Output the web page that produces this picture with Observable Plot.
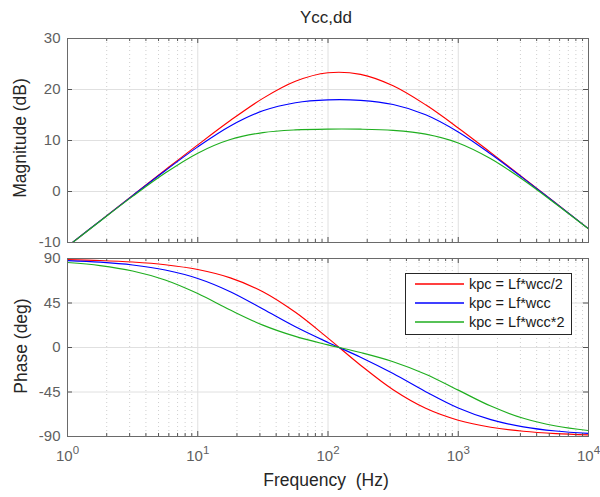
<!DOCTYPE html>
<html>
<head>
<meta charset="utf-8">
<script src="https://cdn.jsdelivr.net/npm/d3@7"></script>
<script src="https://cdn.jsdelivr.net/npm/@observablehq/plot@0.6"></script>
<style>
  body { margin: 0; background: #fff; }
  #wrap { position: relative; width: 600px; height: 497px; overflow: hidden; background: #fff;
          font-family: "Liberation Sans", Arial, Helvetica, sans-serif; }
  #top, #bot, #over { position: absolute; left: 0; }
  #top { top: 0; }
  #bot { top: 250px; }
  #over { top: 0; pointer-events: none; }
</style>
</head>
<body>
<div id="wrap">
  <div id="top"></div>
  <div id="bot"></div>
  <svg id="over" width="600" height="497"></svg>
</div>
<script>
// ---------------- data ----------------
const title = "Ycc,dd";
const seriesNames = ["kpc = Lf*wcc/2", "kpc = Lf*wcc", "kpc = Lf*wcc*2"];
const seriesColors = ["#ff0000", "#0000ff", "#1fae1f"];

const freqHz = [1, 1.778, 3.162, 5.623, 10, 17.78, 31.62, 56.23, 100, 177.8, 316.2, 562.3, 1000, 1778, 3162, 5623, 10000];

const magRed   = [-10.76, -5.76, -0.77, 4.21, 9.14, 13.91, 18.26, 21.61, 23.28, 22.97, 20.73, 16.99, 12.46, 7.62, 2.67, -2.31, -7.31];
const magBlue  = [-10.76, -5.77, -0.81, 4.08, 8.75, 12.85, 15.82, 17.41, 17.97, 17.87, 17.05, 15.05, 11.68, 7.35, 2.58, -2.34, -7.31];
const magGreen = [-10.78, -5.82, -0.96, 3.62, 7.52, 10.19, 11.55, 12.08, 12.24, 12.22, 11.98, 11.25, 9.52, 6.42, 2.25, -2.45, -7.35];

const phaseRed   = [88.88, 88.00, 86.45, 83.70, 78.84, 70.41, 56.41, 35.56, 9.51, -17.89, -42.71, -61.45, -73.51, -80.65, -84.72, -87.03, -88.33];
const phaseBlue  = [87.91, 86.29, 83.42, 78.38, 69.84, 56.47, 38.96, 21.00, 5.14, -9.84, -26.37, -44.63, -61.14, -72.95, -80.24, -84.48, -86.89];
const phaseGreen = [85.95, 82.83, 77.38, 68.26, 54.54, 37.89, 22.64, 11.20, 2.66, -5.11, -14.34, -26.97, -43.10, -59.25, -71.56, -79.39, -83.99];

const magTicks = [-10, 0, 10, 20, 30];
const phaseTicks = [-90, -45, 0, 45, 90];
const decadeTicks = [1, 10, 100, 1000, 10000];
const decadeExponents = ["0", "1", "2", "3", "4"];
const minorMultipliers = [2, 3, 4, 5, 6, 7, 8, 9];

const xLabel = "Frequency  (Hz)";
const magLabel = "Magnitude (dB)";
const phaseLabel = "Phase (deg)";

// ---------------- build tables ----------------
function table(arrs) {
  const rows = [];
  arrs.forEach((vals, s) => vals.forEach((v, i) => rows.push({f: freqHz[i], v, s: seriesNames[s]})));
  return rows;
}
const magData = table([magRed, magBlue, magGreen]);
const phaseData = table([phaseRed, phaseBlue, phaseGreen]);
const minorTicks = decadeTicks.slice(0, -1).flatMap(d => minorMultipliers.map(m => m * d));

const FONT = "Liberation Sans, Arial, Helvetica, sans-serif";
const W = 600, ML = 67, MR = 12;
const PW = W - ML - MR;
const XTICK_FILL = "#5f5f60"; // marker colour used to find the x tick labels afterwards
const TICK_FILL = "#5f5f5f";

function panel({height, marginTop, marginBottom, yDomain, yTicks, data, xLabels}) {
  const PH = height - marginTop - marginBottom;
  const marks = [
    Plot.ruleX(minorTicks, {x: d => d, stroke: "#cfcfcf", strokeDasharray: "1,3"}),
    Plot.ruleX(decadeTicks, {x: d => d, stroke: "#e0e0e0"}),
    Plot.ruleY(yTicks, {y: d => d, stroke: "#e0e0e0"}),
    Plot.line(data, {x: "f", y: "v", z: "s", stroke: "s", strokeWidth: 1.15, curve: "catmull-rom", clip: true}),
    // inward tick marks on all four sides
    Plot.ruleX(decadeTicks, {x: d => d, stroke: "#555", insetTop: PH - 5}),
    Plot.ruleX(minorTicks, {x: d => d, stroke: "#555", insetTop: PH - 3}),
    Plot.ruleX(decadeTicks, {x: d => d, stroke: "#555", insetBottom: PH - 5}),
    Plot.ruleX(minorTicks, {x: d => d, stroke: "#555", insetBottom: PH - 3}),
    Plot.ruleY(yTicks, {y: d => d, stroke: "#555", insetRight: PW - 5}),
    Plot.ruleY(yTicks, {y: d => d, stroke: "#555", insetLeft: PW - 5}),
    Plot.frame({stroke: "#6a6a6a"}),
    Plot.text(yTicks, {y: d => d, text: d => String(d), frameAnchor: "left", dx: -7, textAnchor: "end",
                       fontSize: 15, fill: TICK_FILL})
  ];
  if (xLabels) {
    marks.push(Plot.text(decadeTicks, {x: d => d, text: (d, i) => decadeExponents[i], frameAnchor: "bottom",
                                        dy: 24, fontSize: 15, fill: XTICK_FILL}));
  }
  return Plot.plot({
    width: W, height, marginLeft: ML, marginRight: MR, marginTop, marginBottom,
    style: {fontFamily: FONT, background: "transparent", overflow: "visible"},
    x: {type: "log", domain: [1, 10000], axis: null},
    y: {domain: yDomain, axis: null},
    color: {domain: seriesNames, range: seriesColors},
    marks
  });
}

const topChart = panel({height: 250, marginTop: 38, marginBottom: 8, yDomain: [-10, 30], yTicks: magTicks, data: magData, xLabels: false});
const botChart = panel({height: 247, marginTop: 8, marginBottom: 61, yDomain: [-90, 90], yTicks: phaseTicks, data: phaseData, xLabels: true});
document.getElementById("top").appendChild(topChart);
document.getElementById("bot").appendChild(botChart);

// superscript exponents on x tick labels: 10^n
const NS = "http://www.w3.org/2000/svg";
botChart.querySelectorAll("text").forEach(t => {
  const g = t.closest("g");
  const fill = (t.getAttribute("fill") || (g && g.getAttribute("fill")) || "").toLowerCase();
  if (fill !== XTICK_FILL) return;
  const e = t.textContent;
  t.textContent = "10";
  const ts = document.createElementNS(NS, "tspan");
  ts.setAttribute("dy", "-7");
  ts.setAttribute("font-size", "11.5");
  ts.textContent = e;
  t.appendChild(ts);
  t.setAttribute("fill", TICK_FILL);
});

// ---------------- titles, labels, legend ----------------
const over = d3.select("#over").style("font-family", FONT);
over.append("text").attr("x", 326).attr("y", 23).attr("text-anchor", "middle")
  .attr("font-size", 17).attr("fill", "#262626").text(title);
over.append("text").attr("transform", "translate(26,138) rotate(-90)").attr("text-anchor", "middle")
  .attr("font-size", 17.5).attr("fill", "#262626").text(magLabel);
over.append("text").attr("transform", "translate(26.5,346) rotate(-90)").attr("text-anchor", "middle")
  .attr("font-size", 17.5).attr("fill", "#262626").text(phaseLabel);
over.append("text").attr("x", 326).attr("y", 486).attr("text-anchor", "middle")
  .attr("font-size", 17.5).attr("fill", "#262626").attr("xml:space", "preserve")
  .style("white-space", "pre").text(xLabel);

const lg = over.append("g");
lg.append("rect").attr("x", 405.5).attr("y", 273.5).attr("width", 166).attr("height", 61)
  .attr("fill", "#fff").attr("stroke", "#262626").attr("stroke-width", 1);
seriesNames.forEach((name, i) => {
  const y = 284 + i * 19;
  lg.append("line").attr("x1", 415).attr("x2", 464).attr("y1", y).attr("y2", y)
    .attr("stroke", seriesColors[i]).attr("stroke-width", 1.3);
  lg.append("text").attr("x", 469).attr("y", y + 5).attr("font-size", 14.5).attr("fill", "#1a1a1a").text(name);
});
</script>
</body>
</html>
